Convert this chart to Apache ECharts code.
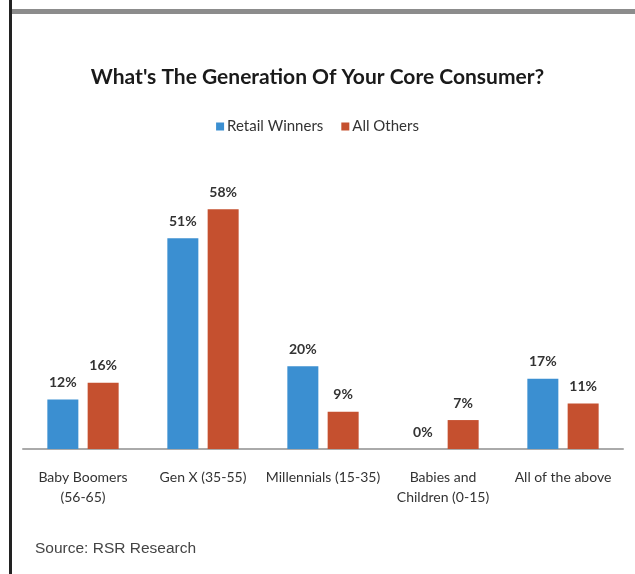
<!DOCTYPE html>
<html>
<head>
<meta charset="utf-8">
<script src="https://cdn.jsdelivr.net/npm/echarts@6/dist/echarts.min.js"></script>
<style>
    html, body { margin: 0; padding: 0; background: #fff; }
    #chart { width: 635px; height: 574px; }
</style>
</head>
<body>
<div id="chart"></div>
<script>
const categories = [
    'Baby Boomers\n(56-65)',
    'Gen X (35-55)',
    'Millennials (15-35)',
    'Babies and\nChildren (0-15)',
    'All of the above',
];
const retailWinners = [12, 51, 20, 0, 17];
const allOthers = [16, 58, 9, 7, 11];
const colorList = ['#3b8fd1', '#c5502f'];

const labelStyle = {
    show: true,
    position: 'top',
    distance: 10,
    color: '#333',
    fontFamily: 'Lato',
    fontWeight: 'bold',
    fontSize: 14,
    formatter: '{c}%',
};

const option = {
    color: colorList,
    title: {
        text: "What's The Generation Of Your Core Consumer?",
        left: 'center',
        top: 62,
        textStyle: {
            fontFamily: 'Lato',
            fontWeight: 'bold',
            fontSize: 21,
            color: '#1a1a1a',
        },
    },
    legend: {
        top: 114,
        left: 'center',
        icon: 'rect',
        itemWidth: 8,
        itemHeight: 8,
        itemGap: 18,
        textStyle: {
            fontFamily: 'Lato',
            fontSize: 15,
            color: '#333',
            padding: [0, 0, 0, -2],
        },
    },
    grid: {
        left: 23,
        right: 12,
        top: 201,
        bottom: 125,
    },
    xAxis: {
        type: 'category',
        data: categories,
        axisLine: {
            lineStyle: { color: '#aaa', width: 2 },
        },
        axisTick: { show: false },
        axisLabel: {
            interval: 0,
            color: '#333',
            fontFamily: 'Lato',
            fontSize: 14,
            lineHeight: 20,
            margin: 18,
        },
    },
    yAxis: {
        type: 'value',
        min: 0,
        max: 60,
        show: false,
    },
    series: [
        {
            name: 'Retail Winners',
            type: 'bar',
            data: retailWinners,
            barWidth: 31,
            barGap: '30%',
            label: labelStyle,
        },
        {
            name: 'All Others',
            type: 'bar',
            data: allOthers,
            barWidth: 31,
            barGap: '30%',
            label: labelStyle,
        },
    ],
    graphic: [
        {
            type: 'rect',
            shape: { x: 12, y: 9, width: 623, height: 5 },
            style: { fill: '#8c8c8c' },
        },
        {
            type: 'rect',
            shape: { x: 9, y: 0, width: 3, height: 574 },
            style: { fill: '#222' },
        },
        {
            type: 'text',
            left: 35,
            top: 541,
            style: {
                text: 'Source: RSR Research',
                fontFamily: 'Liberation Sans',
                fontSize: 15.5,
                fill: '#444',
            },
        },
    ],
};

// 绘制图表
let myChart = echarts.init(document.getElementById('chart'));
myChart.setOption(option);
</script>
</body>
</html>
